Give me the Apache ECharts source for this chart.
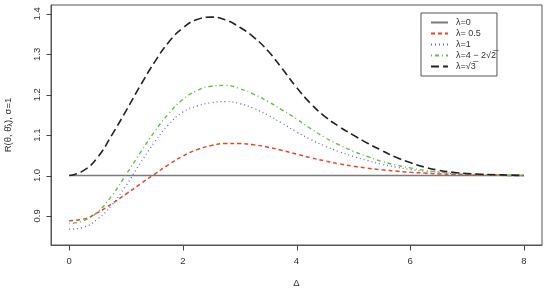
<!DOCTYPE html>
<html>
<head>
<meta charset="UTF-8">
<title>Risk vs Delta</title>
<script src="https://cdn.jsdelivr.net/npm/echarts@6/dist/echarts.min.js"></script>
<style>
    body { margin: 0; background: #fff; }
    #chart { width: 551px; height: 294px; }
</style>
</head>
<body>
<div id="chart"></div>
<script>
// grid of Delta values
const delta = [0, 0.25, 0.5, 0.75, 1, 1.25, 1.5, 1.75, 2, 2.25, 2.5, 2.75, 3, 3.25, 3.5, 3.75,
               4, 4.25, 4.5, 4.75, 5, 5.25, 5.5, 5.75, 6, 6.25, 6.5, 6.75, 7, 7.25, 7.5, 7.75, 8];

// lambda = 0 : flat line
const lam0Delta = [0, 8];
const lam0 = [1.0, 1.0];

// lambda = 0.5 (red dashed)
const lamHalf = [0.888, 0.892, 0.908, 0.930, 0.954, 0.979, 1.003, 1.027, 1.048, 1.064, 1.074, 1.079, 1.079,
                 1.076, 1.070, 1.062, 1.053, 1.044, 1.036, 1.029, 1.023, 1.018, 1.014, 1.011, 1.008, 1.006,
                 1.004, 1.003, 1.002, 1.001, 1.001, 1.000, 1.000];

// lambda = 1 (blue dotted)
const lamOne = [0.867, 0.872, 0.892, 0.927, 0.975, 1.030, 1.082, 1.126, 1.157, 1.172, 1.180, 1.183, 1.178,
                1.166, 1.149, 1.129, 1.108, 1.089, 1.073, 1.059, 1.047, 1.037, 1.028, 1.021, 1.015, 1.011,
                1.008, 1.005, 1.003, 1.002, 1.001, 1.000, 1.000];

// lambda = 4 - 2*sqrt(2) (green dot-dash)
const lamMid = [0.881, 0.888, 0.910, 0.950, 1.002, 1.056, 1.108, 1.153, 1.188, 1.210, 1.221, 1.223, 1.215,
                1.201, 1.183, 1.162, 1.140, 1.116, 1.094, 1.076, 1.060, 1.047, 1.035, 1.026, 1.019, 1.013,
                1.009, 1.006, 1.004, 1.002, 1.001, 1.000, 1.000];

// lambda = sqrt(3) (black long dash)
const lamSqrt3 = [1.000, 1.012, 1.045, 1.100, 1.160, 1.222, 1.280, 1.330, 1.365, 1.386, 1.392, 1.385, 1.367,
                  1.342, 1.308, 1.264, 1.218, 1.178, 1.146, 1.121, 1.100, 1.080, 1.062, 1.045, 1.032, 1.021,
                  1.013, 1.008, 1.005, 1.003, 1.002, 1.001, 1.000];

const xTicks = [0, 2, 4, 6, 8];
const yTicks = [0.9, 1.0, 1.1, 1.2, 1.3, 1.4];
const xMin = -0.32, xMax = 8.32;
const yMin = 0.828, yMax = 1.422;

const names = ['l0', 'l05', 'l1', 'lmid', 'lsq3'];

function pairs(xs, ys) {
    return xs.map((x, i) => [x, ys[i]]);
}

const font = '"Liberation Sans", Arial, sans-serif';

const chart = echarts.init(document.getElementById('chart'));

function mk(name, xs, ys, color, width, type) {
    return {
        name: name,
        type: 'line',
        data: pairs(xs, ys),
        smooth: true,
        symbol: 'none',
        silent: true,
        lineStyle: { color: color, width: width, type: type },
        itemStyle: { color: color }
    };
}

// outward tick marks, placed through the axes' own coordinate mapping
function tickSeries(data, dir) {
    return {
        type: 'custom',
        silent: true,
        clip: false,
        data: data,
        renderItem: function (params, api) {
            const p = api.coord([api.value(0), api.value(1)]);
            const x = Math.round(p[0]) + 0.5, y = Math.round(p[1]) + 0.5;
            const shape = dir === 'x'
                ? { x1: x, y1: y, x2: x, y2: y + 5 }
                : { x1: x - 5, y1: y, x2: x, y2: y };
            return { type: 'line', shape: shape, style: { stroke: '#444', lineWidth: 1 } };
        }
    };
}

chart.setOption({
    animation: false,
    grid: {
        left: 51, right: 9, top: 5, bottom: 49,
        outerBoundsMode: 'none', containLabel: false,
        show: true, borderColor: '#555', borderWidth: 1
    },
    legend: {
        data: names,
        orient: 'vertical',
        left: 421,
        top: 13,
        padding: [5, 1, 5, 9],
        itemWidth: 17,
        itemHeight: 10,
        itemGap: 2,
        borderColor: '#555',
        borderWidth: 1,
        borderRadius: 0,
        backgroundColor: '#fff',
        selectedMode: false,
        itemStyle: { opacity: 0 },
        textStyle: { fontFamily: font, fontSize: 9, color: '#333', padding: [0, 0, 0, 3] },
        formatter: function (n) {
            return {
                l0: 'λ=0',
                l05: 'λ= 0.5',
                l1: 'λ=1',
                lmid: 'λ=4 − 2√2̅',
                lsq3: 'λ=√3̅'
            }[n];
        }
    },
    xAxis: {
        type: 'value',
        min: xMin,
        max: xMax,
        name: 'Δ',
        nameLocation: 'middle',
        nameGap: 33,
        nameTextStyle: { fontFamily: font, fontSize: 9.5, color: '#333' },
        axisLine: { show: true, onZero: false, lineStyle: { color: '#555', width: 1 } },
        splitLine: { show: false },
        axisTick: { show: false },
        axisLabel: { customValues: xTicks, margin: 11, fontFamily: font, fontSize: 9.5, color: '#333' }
    },
    yAxis: {
        type: 'value',
        min: yMin,
        max: yMax,
        name: 'R(θ, θ̂{s|λ}), σ=1',
        nameLocation: 'middle',
        nameRotate: 90,
        nameGap: 37,
        nameTextStyle: {
            fontFamily: font, fontSize: 9.5, color: '#333',
            rich: { s: { fontSize: 7, color: '#333', fontFamily: font, padding: [5, 0, 0, 0] } }
        },
        axisLine: { show: true, onZero: false, lineStyle: { color: '#555', width: 1 } },
        splitLine: { show: false },
        axisTick: { show: false },
        axisLabel: {
            customValues: yTicks,
            rotate: 90,
            margin: 9,
            align: 'center',
            verticalAlign: 'bottom',
            fontFamily: font, fontSize: 9.5, color: '#333',
            formatter: v => v.toFixed(1)
        }
    },
    series: [
        mk('l0', lam0Delta, lam0, '#7a7a7a', 1.5, 'solid'),
        mk('l05', delta, lamHalf, '#e2472f', 1.5, [4, 3]),
        mk('l1', delta, lamOne, '#5f6fb8', 1.3, [1, 3]),
        mk('lmid', delta, lamMid, '#6cb84a', 1.4, [1, 3, 4, 3]),
        mk('lsq3', delta, lamSqrt3, '#222222', 1.6, [8, 4]),
        tickSeries(xTicks.map(v => [v, yMin]), 'x'),
        tickSeries(yTicks.map(v => [xMin, v]), 'y')
    ]
});
</script>
</body>
</html>
